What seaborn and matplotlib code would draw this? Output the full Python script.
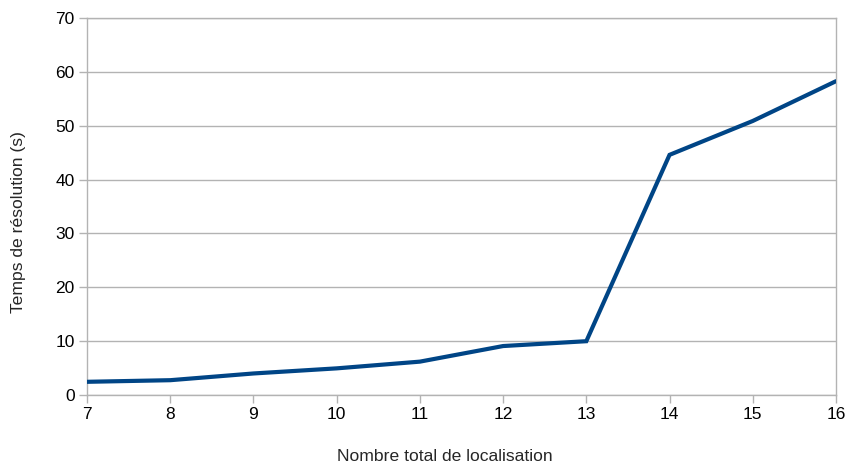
import matplotlib
matplotlib.use("Agg")
import matplotlib.pyplot as plt
import seaborn as sns
import pandas as pd

# Nombre total de localisation vs temps de résolution
localisations = [7, 8, 9, 10, 11, 12, 13, 14, 15, 16]
temps = [2.4, 2.7, 3.95, 4.9, 6.15, 9.05, 9.95, 44.6, 50.9, 58.3]
y_ticks = [0, 10, 20, 30, 40, 50, 60, 70]

df = pd.DataFrame({"n": localisations, "t": temps})

sns.set_style("white")
plt.rcParams["font.family"] = ["Liberation Sans", "DejaVu Sans"]

grid_col = "#b3b3b3"
fig = plt.figure(figsize=(8.5, 4.68), dpi=100)
ax = fig.add_axes([0.1024, 0.1566, 0.8811, 0.8044])

sns.lineplot(data=df, x="n", y="t", ax=ax, color="#004586", linewidth=3.0,
             solid_joinstyle="miter", zorder=3)

ax.set_xlim(7, 16)
ax.set_ylim(0, 70)
ax.set_xticks(localisations)
ax.set_yticks(y_ticks)
ax.yaxis.grid(True, color=grid_col, linewidth=1.0)
ax.xaxis.grid(False)
for s in ax.spines.values():
    s.set_color(grid_col)
    s.set_linewidth(1.0)
ax.tick_params(axis="both", which="major", direction="out", length=6,
               width=1.0, color=grid_col, labelsize=12.5, labelcolor="black",
               pad=3, left=True, bottom=True)

ax.set_xlabel("Nombre total de localisation", fontsize=12.6, labelpad=19)
ax.set_ylabel("Temps de résolution (s)", fontsize=12.6, labelpad=21)
ax.xaxis.label.set_x(0.478)
ax.yaxis.label.set_y(0.46)

fig.savefig("out.png", dpi=100)
